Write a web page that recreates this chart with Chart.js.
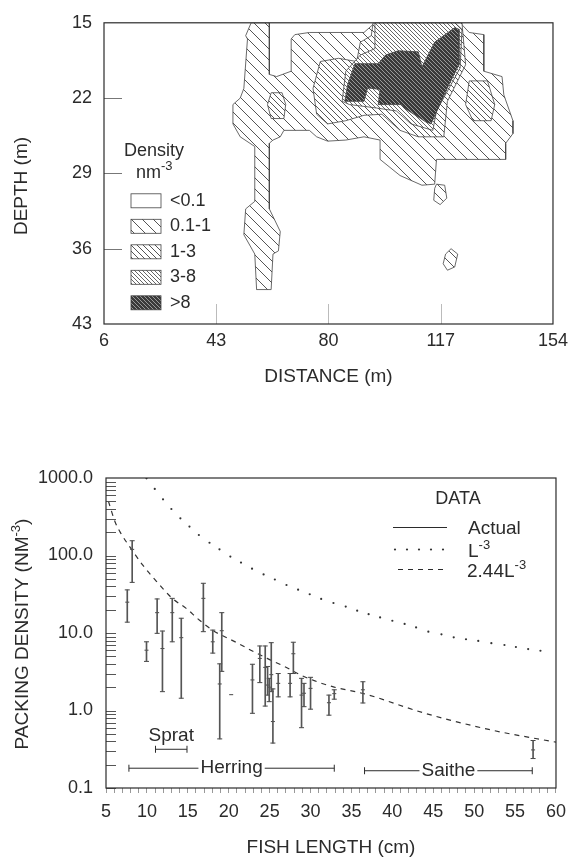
<!DOCTYPE html>
<html>
<head>
<meta charset="utf-8">
<script src="https://cdn.jsdelivr.net/npm/chart.js@4.4.1/dist/chart.umd.min.js"></script>
<style>
  body { margin: 0; background: #fff; }
  canvas { position: absolute; left: 0; }
  #mapChart { top: 0; }
  #packChart { top: 400px; }
</style>
</head>
<body>
<canvas id="mapChart" width="574" height="400"></canvas>
<canvas id="packChart" width="574" height="459"></canvas>
<script>
const FONT = "'Liberation Sans', Arial, sans-serif";
const INK = '#2b2b2b';

// ---------- top panel: school density map ----------
const distanceTicks = [6, 43, 80, 117, 154];
const depthTicks = [15, 22, 29, 36, 43];
const densityClasses = ['<0.1', '0.1-1', '1-3', '3-8', '>8'];

// outlines of each density zone as [distance (m), depth (m)]
const zoneLowMain = [[54.5,15.0],[60.5,15.0],[60.5,19.8],[62.9,20.0],[67.7,19.5],[67.7,16.5],[68.9,16.1],[73.7,15.9],[91.7,15.9],[95.3,15.0],[123.4,15.0],[126.4,15.9],[131.2,16.1],[131.2,19.5],[137.2,20.0],[137.8,21.7],[140.8,24.1],[140.8,25.3],[138.4,26.2],[138.4,27.7],[115.6,27.7],[115.0,30.0],[110.8,30.1],[103.6,29.2],[97.0,27.7],[97.0,25.9],[91.7,25.6],[85.7,25.9],[79.7,26.0],[76.1,25.6],[73.7,25.0],[65.3,25.0],[64.1,25.6],[61.7,25.9],[60.5,26.2],[60.5,32.3],[64.1,34.4],[63.5,36.2],[61.7,36.5],[61.1,39.8],[56.3,39.8],[55.7,36.5],[52.1,34.7],[52.7,32.3],[55.7,31.6],[55.7,26.5],[50.9,25.6],[48.5,24.4],[48.5,22.6],[50.9,22.0],[52.1,21.1],[53.3,16.5],[52.7,16.2]];
const zoneLowBlobA = [[115.6,30.0],[118.3,30.1],[119.0,31.3],[116.8,31.9],[114.7,31.5],[115.0,30.4]];
const zoneLowBlobB = [[120.4,36.0],[122.6,36.5],[121.6,37.7],[119.2,38.0],[117.8,37.4],[118.6,36.5]];
const zoneMidLeft = [[61.1,21.5],[64.7,21.5],[65.9,22.6],[65.3,23.9],[61.1,23.9],[59.9,22.6]];
const zoneMidMain = [[94.7,15.0],[124.0,15.0],[125.2,18.9],[119.2,22.3],[118.0,25.6],[109.6,25.6],[103.6,25.0],[97.6,23.5],[91.7,23.6],[85.7,24.1],[79.7,24.4],[76.1,23.5],[74.9,21.1],[77.3,18.6],[83.3,18.3],[89.3,18.6],[90.5,16.8],[94.1,16.2]];
const zoneMidRight = [[126.4,20.4],[132.4,20.4],[134.8,22.6],[133.6,24.1],[127.6,24.1],[125.2,22.6]];
const zoneHigh = [[95.3,15.0],[121.6,15.0],[124.0,15.6],[123.4,19.2],[115.6,23.2],[114.4,25.0],[107.2,24.4],[102.4,23.2],[95.3,22.9],[86.9,22.6],[84.5,22.3],[85.7,19.5],[90.5,18.0],[95.3,17.4]];
const zonePeak = [[85.4,22.3],[86.3,20.75],[88.7,18.8],[96.4,18.8],[98.8,18.0],[103.0,17.6],[109.6,17.7],[110.8,19.1],[115.0,16.8],[121.6,15.45],[123.0,15.6],[123.0,18.9],[119.2,21.05],[113.8,24.4],[112.0,24.2],[104.8,22.9],[104.2,22.6],[96.4,22.6],[97.0,21.2],[92.9,21.05],[91.7,22.3]];

// ---------- bottom panel: packing density ----------
const lengthTicks = [5, 10, 15, 20, 25, 30, 35, 40, 45, 50, 55, 60];
const densityTicks = [0.1, 1, 10, 100, 1000];

const fishLength  = [7.6, 8.2, 9.95, 11.25, 11.9, 13.1, 14.2, 16.9, 18.05, 18.9, 19.15, 20.3, 22.9, 23.8, 24.46, 24.75, 24.95, 25.2, 25.4, 26.05, 27.5, 27.9, 28.9, 29.2, 30.0, 32.25, 32.9, 36.4, 57.2];
const densityMid  = [25, 120, 6.0, 18.3, 6.3, 18.3, 8.7, 28, 7.7, 2.2, 10.7, 1.6, 2.48, 4.7, 3.6, 2.13, 2.0, 2.9, 0.72, 2.24, 2.24, 5.4, 1.58, 1.67, 1.93, 1.26, 1.65, 1.85, 0.31];
const densityLow  = [13.8, 45, 4.3, 9.9, 1.75, 7.7, 1.44, 10.4, 5.5, 0.43, 3.2, null, 0.92, 2.29, 1.14, 1.58, 1.3, 1.75, 0.38, 1.5, 1.5, 3.0, 0.6, 1.12, 1.04, 0.87, 1.4, 1.25, 0.24];
const densityHigh = [36, 155, 7.7, 27.5, 10.6, 28, 15.5, 43.8, 10.9, 4.0, 18.3, null, 3.95, 6.8, 6.8, 3.7, 2.6, 7.5, 1.9, 3.0, 3.0, 7.6, 2.6, 2.24, 2.68, 1.58, 1.85, 2.35, 0.41];

// L^-3 curve (dots as printed)
const cubeLength = [9.95, 10.96, 11.97, 12.99, 14.09, 15.2, 16.35, 17.65, 18.87, 20.2, 21.5, 22.85, 24.26, 25.64, 27.06, 28.48, 29.9, 31.3, 32.8, 34.3, 35.7, 37.1, 38.5, 40.0, 41.5, 42.9, 44.4, 46.0, 47.5, 49.0, 50.5, 52.1, 53.7, 55.1, 56.6, 58.1];
const cubeDensity = [990, 722, 531, 398, 302, 236, 184, 146, 120, 97, 81, 67.6, 57, 49, 41.6, 36.2, 31.6, 27.5, 24.4, 21.9, 19.4, 17.5, 15.9, 14.4, 13.1, 11.8, 10.4, 9.6, 8.8, 8.3, 7.9, 7.4, 7.0, 6.6, 6.2, 5.9];
// 2.44L^-3 curve
const fitLength  = [5.3, 6.1, 6.7, 8.2, 9.5, 11.2, 13.1, 14.8, 16.4, 18.3, 19.1, 21.1, 22.7, 24.7, 26.8, 28.8, 30.8, 32.7, 36.5, 44, 52.1, 60];
const fitDensity = [500, 273, 203, 117, 75, 46, 28, 20.8, 14.7, 10.4, 9.4, 7.4, 6.0, 4.7, 3.7, 2.87, 2.35, 2.03, 1.65, 0.92, 0.56, 0.39];

// species length ranges
const speciesNames = ['Sprat', 'Herring', 'Saithe'];
const speciesFrom  = [11.05, 7.8, 36.6];
const speciesTo    = [14.9, 32.9, 57.1];
const speciesLevel = [0.316, 0.18, 0.167];

// ---------- helpers ----------
function hatch(step, color, bg) {
  const c = document.createElement('canvas');
  c.width = c.height = step;
  const g = c.getContext('2d');
  g.fillStyle = bg;
  g.fillRect(0, 0, step, step);
  g.strokeStyle = color;
  g.lineWidth = 1;
  g.beginPath();
  for (const o of [-step, 0, step]) { g.moveTo(o, 0); g.lineTo(o + step, step); }
  g.stroke();
  return g.createPattern(c, 'repeat');
}
const classFills = [
  '#ffffff',
  hatch(11, '#555', '#fff'),
  hatch(6, '#555', '#fff'),
  hatch(4, '#666', '#fff'),
  hatch(4, '#999', '#3a3a3a')
];

function richText(ctx, parts, x, y, size, align) {
  const widths = parts.map(([t, sup]) => {
    ctx.font = (sup ? Math.round(size * 0.7) : size) + 'px ' + FONT;
    return ctx.measureText(t).width;
  });
  const total = widths.reduce((a, b) => a + b, 0);
  let cx = align === 'center' ? x - total / 2 : x;
  ctx.textAlign = 'left';
  ctx.textBaseline = 'alphabetic';
  parts.forEach(([t, sup], i) => {
    ctx.font = (sup ? Math.round(size * 0.7) : size) + 'px ' + FONT;
    ctx.fillText(t, cx, sup ? y - size * 0.42 : y);
    cx += widths[i];
  });
}

// ---------- top chart ----------
const zones = [
  [zonePeak, 4], [zoneHigh, 3], [zoneMidMain, 2], [zoneMidLeft, 2], [zoneMidRight, 2],
  [zoneLowMain, 1], [zoneLowBlobA, 1], [zoneLowBlobB, 1]
];

const mapDecor = {
  id: 'mapDecor',
  afterDraw(chart) {
    const {ctx, chartArea: a, scales: {x, y}} = chart;
    ctx.save();
    // inward ticks
    ctx.lineWidth = 1;
    ctx.strokeStyle = '#777';
    ctx.beginPath();
    depthTicks.slice(1, -1).forEach(v => {
      const py = Math.round(y.getPixelForValue(v)) + 0.5;
      ctx.moveTo(a.left, py); ctx.lineTo(a.left + 18, py);
    });
    ctx.stroke();
    ctx.strokeStyle = '#bbb';
    ctx.beginPath();
    distanceTicks.slice(1, -1).forEach(v => {
      const px = Math.round(x.getPixelForValue(v)) + 0.5;
      ctx.moveTo(px, a.bottom); ctx.lineTo(px, a.bottom - 20);
    });
    ctx.stroke();
    // frame
    ctx.strokeStyle = INK;
    ctx.lineWidth = 1.2;
    ctx.strokeRect(a.left, a.top, a.right - a.left, a.bottom - a.top);
    // y title
    ctx.fillStyle = INK;
    ctx.save();
    ctx.translate(22, 186);
    ctx.rotate(-Math.PI / 2);
    ctx.font = '19px ' + FONT;
    ctx.textAlign = 'center';
    ctx.textBaseline = 'middle';
    ctx.fillText('DEPTH (m)', 0, 0);
    ctx.restore();
    // legend
    const lx = a.left + 20, ly = a.top + 133;
    ctx.font = '18px ' + FONT;
    ctx.textAlign = 'left';
    ctx.textBaseline = 'alphabetic';
    ctx.fillText('Density', lx, ly);
    richText(ctx, [['nm', false], ['-3', true]], lx + 12, ly + 22, 18, 'left');
    densityClasses.forEach((label, i) => {
      const cy = a.top + 178 + i * 25.5;
      ctx.fillStyle = classFills[i];
      ctx.fillRect(lx + 7, cy - 7, 30, 14);
      ctx.strokeStyle = '#444';
      ctx.lineWidth = 0.8;
      ctx.strokeRect(lx + 7, cy - 7, 30, 14);
      ctx.fillStyle = INK;
      ctx.font = '18px ' + FONT;
      ctx.textBaseline = 'middle';
      ctx.fillText(label, lx + 46, cy);
    });
    ctx.restore();
  }
};

new Chart(document.getElementById('mapChart'), {
  type: 'line',
  data: {
    datasets: zones.map(([poly, cls], i) => ({
      data: poly.concat([poly[0]]).map(p => ({x: p[0], y: p[1]})),
      fill: 'shape',
      backgroundColor: classFills[cls],
      borderColor: '#444',
      borderWidth: 0.8,
      pointRadius: 0,
      order: i
    }))
  },
  options: {
    responsive: false,
    animation: false,
    devicePixelRatio: 1,
    events: [],
    layout: {padding: {top: 17, right: 18, left: 0, bottom: 0}},
    plugins: {legend: {display: false}, tooltip: {enabled: false}},
    scales: {
      x: {
        type: 'linear', min: 6, max: 154, offset: false,
        afterBuildTicks: s => { s.ticks = distanceTicks.map(v => ({value: v})); },
        afterFit: s => { s.height = 76; },
        grid: {display: false, drawTicks: false},
        border: {display: false},
        ticks: {font: {family: FONT, size: 18}, color: INK, padding: 6, maxRotation: 0, autoSkip: false},
        title: {display: true, text: 'DISTANCE (m)', font: {family: FONT, size: 19}, color: INK, padding: {top: 0, bottom: 12}}
      },
      y: {
        type: 'linear', min: 15, max: 43, reverse: true,
        afterBuildTicks: s => { s.ticks = depthTicks.map(v => ({value: v})); },
        afterFit: s => { s.width = 104; },
        grid: {display: false, drawTicks: false},
        border: {display: false},
        ticks: {font: {family: FONT, size: 18}, color: INK, padding: 12, autoSkip: false}
      }
    }
  },
  plugins: [mapDecor]
});

// ---------- bottom chart ----------
const packDecor = {
  id: 'packDecor',
  afterDraw(chart) {
    const {ctx, chartArea: a, scales: {x, y}} = chart;
    ctx.save();
    // inward minor ticks on the log axis
    ctx.strokeStyle = '#555';
    ctx.lineWidth = 1;
    ctx.beginPath();
    densityTicks.slice(0, -1).forEach(d => {
      for (let m = 1; m < 10; m++) {
        const py = Math.round(y.getPixelForValue(d * m)) + 0.5;
        ctx.moveTo(a.left, py); ctx.lineTo(a.left + 10, py);
      }
    });
    ctx.stroke();
    // frame
    ctx.strokeStyle = INK;
    ctx.lineWidth = 1.2;
    ctx.strokeRect(a.left, a.top, a.right - a.left, a.bottom - a.top);
    // species labels
    ctx.fillStyle = INK;
    ctx.font = '19px ' + FONT;
    speciesNames.forEach((name, i) => {
      const cx = x.getPixelForValue((speciesFrom[i] + speciesTo[i]) / 2);
      const cy = y.getPixelForValue(speciesLevel[i]);
      ctx.textAlign = 'center';
      if (i === 0) {
        ctx.textBaseline = 'alphabetic';
        ctx.fillText(name, cx, cy - 8);
      } else {
        const w = ctx.measureText(name).width;
        ctx.fillStyle = '#fff';
        ctx.fillRect(cx - w / 2 - 2, cy - 4, w + 4, 8);
        ctx.fillStyle = INK;
        ctx.textBaseline = 'middle';
        ctx.fillText(name, cx, cy);
      }
    });
    // y title
    ctx.save();
    ctx.translate(28, 234);
    ctx.rotate(-Math.PI / 2);
    richText(ctx, [['PACKING DENSITY (NM', false], ['-3', true], [')', false]], 0, 0, 19, 'center');
    ctx.restore();
    // legend
    const tx = a.left + 362;
    ctx.font = '18px ' + FONT;
    ctx.textAlign = 'center';
    ctx.textBaseline = 'alphabetic';
    ctx.fillText('DATA', a.left + 352, a.top + 26);
    richText(ctx, [['Actual', false]], tx, a.top + 56, 19, 'left');
    richText(ctx, [['L', false], ['-3', true]], tx, a.top + 79, 19, 'left');
    richText(ctx, [['2.44L', false], ['-3', true]], tx - 1, a.top + 99, 19, 'left');
    ctx.strokeStyle = INK;
    ctx.lineWidth = 1.1;
    ctx.beginPath();
    ctx.moveTo(a.left + 287, a.top + 49.5); ctx.lineTo(a.left + 341, a.top + 49.5);
    ctx.stroke();
    ctx.setLineDash([5, 5]);
    ctx.beginPath();
    ctx.moveTo(a.left + 292, a.top + 91.5); ctx.lineTo(a.left + 342, a.top + 91.5);
    ctx.stroke();
    ctx.setLineDash([]);
    ctx.fillStyle = '#333';
    for (let k = 0; k < 5; k++) {
      ctx.beginPath();
      ctx.arc(a.left + 289 + k * 12, a.top + 71.5, 1.1, 0, Math.PI * 2);
      ctx.fill();
    }
    ctx.restore();
  }
};

const errorBars = [], errorCaps = [], errorMids = [];
fishLength.forEach((len, i) => {
  errorMids.push({x: len, y: densityMid[i]});
  if (densityLow[i] == null) return;
  errorBars.push({x: len, y: [densityLow[i], densityHigh[i]]});
  errorCaps.push({x: len, y: densityLow[i]}, {x: len, y: densityHigh[i]});
});

const speciesSets = speciesNames.map((name, i) => ({
  type: 'line',
  data: [{x: speciesFrom[i], y: speciesLevel[i]}, {x: speciesTo[i], y: speciesLevel[i]}],
  borderColor: INK,
  borderWidth: 1,
  pointStyle: 'line',
  pointRotation: 90,
  pointRadius: 3.5,
  pointBorderColor: INK,
  pointBorderWidth: 1
}));

new Chart(document.getElementById('packChart'), {
  type: 'scatter',
  data: {
    datasets: [
      {type: 'bar', data: errorBars, backgroundColor: '#555', barThickness: 1, grouped: false, borderWidth: 0},
      {data: errorCaps, pointStyle: 'line', pointRadius: 2.5, pointBorderColor: '#444', pointBorderWidth: 1},
      {data: errorMids, pointStyle: 'line', pointRadius: 2, pointBorderColor: '#444', pointBorderWidth: 1},
      {data: cubeLength.map((v, i) => ({x: v, y: cubeDensity[i]})), pointRadius: 1.1, pointBackgroundColor: '#333', pointBorderWidth: 0},
      {type: 'line', data: fitLength.map((v, i) => ({x: v, y: fitDensity[i]})), borderColor: '#333', borderWidth: 1.2, borderDash: [5, 5], pointRadius: 0, cubicInterpolationMode: 'monotone', fill: false},
      ...speciesSets
    ]
  },
  options: {
    responsive: false,
    animation: false,
    devicePixelRatio: 1,
    events: [],
    layout: {padding: {top: 78, right: 16, left: 0, bottom: 0}},
    plugins: {legend: {display: false}, tooltip: {enabled: false}},
    scales: {
      x: {
        type: 'linear', min: 5, max: 60, offset: false,
        afterFit: s => { s.height = 71; },
        grid: {display: true, drawOnChartArea: false, drawTicks: true, tickLength: 5, color: '#999', offset: false},
        border: {display: false},
        ticks: {
          stepSize: 1, autoSkip: false, maxRotation: 0, padding: 8,
          font: {family: FONT, size: 18}, color: INK,
          callback: v => lengthTicks.includes(v) ? String(v) : ''
        },
        title: {display: true, text: 'FISH LENGTH (cm)', font: {family: FONT, size: 19}, color: INK, padding: {top: 0, bottom: 0}}
      },
      y: {
        type: 'logarithmic', min: 0.1, max: 1000,
        afterBuildTicks: s => { s.ticks = densityTicks.map(v => ({value: v})); },
        afterFit: s => { s.width = 106; },
        grid: {display: false, drawTicks: false},
        border: {display: false},
        ticks: {font: {family: FONT, size: 18}, color: INK, padding: 13, autoSkip: false, callback: v => Number(v).toFixed(1)}
      }
    }
  },
  plugins: [packDecor]
});
</script>
</body>
</html>
